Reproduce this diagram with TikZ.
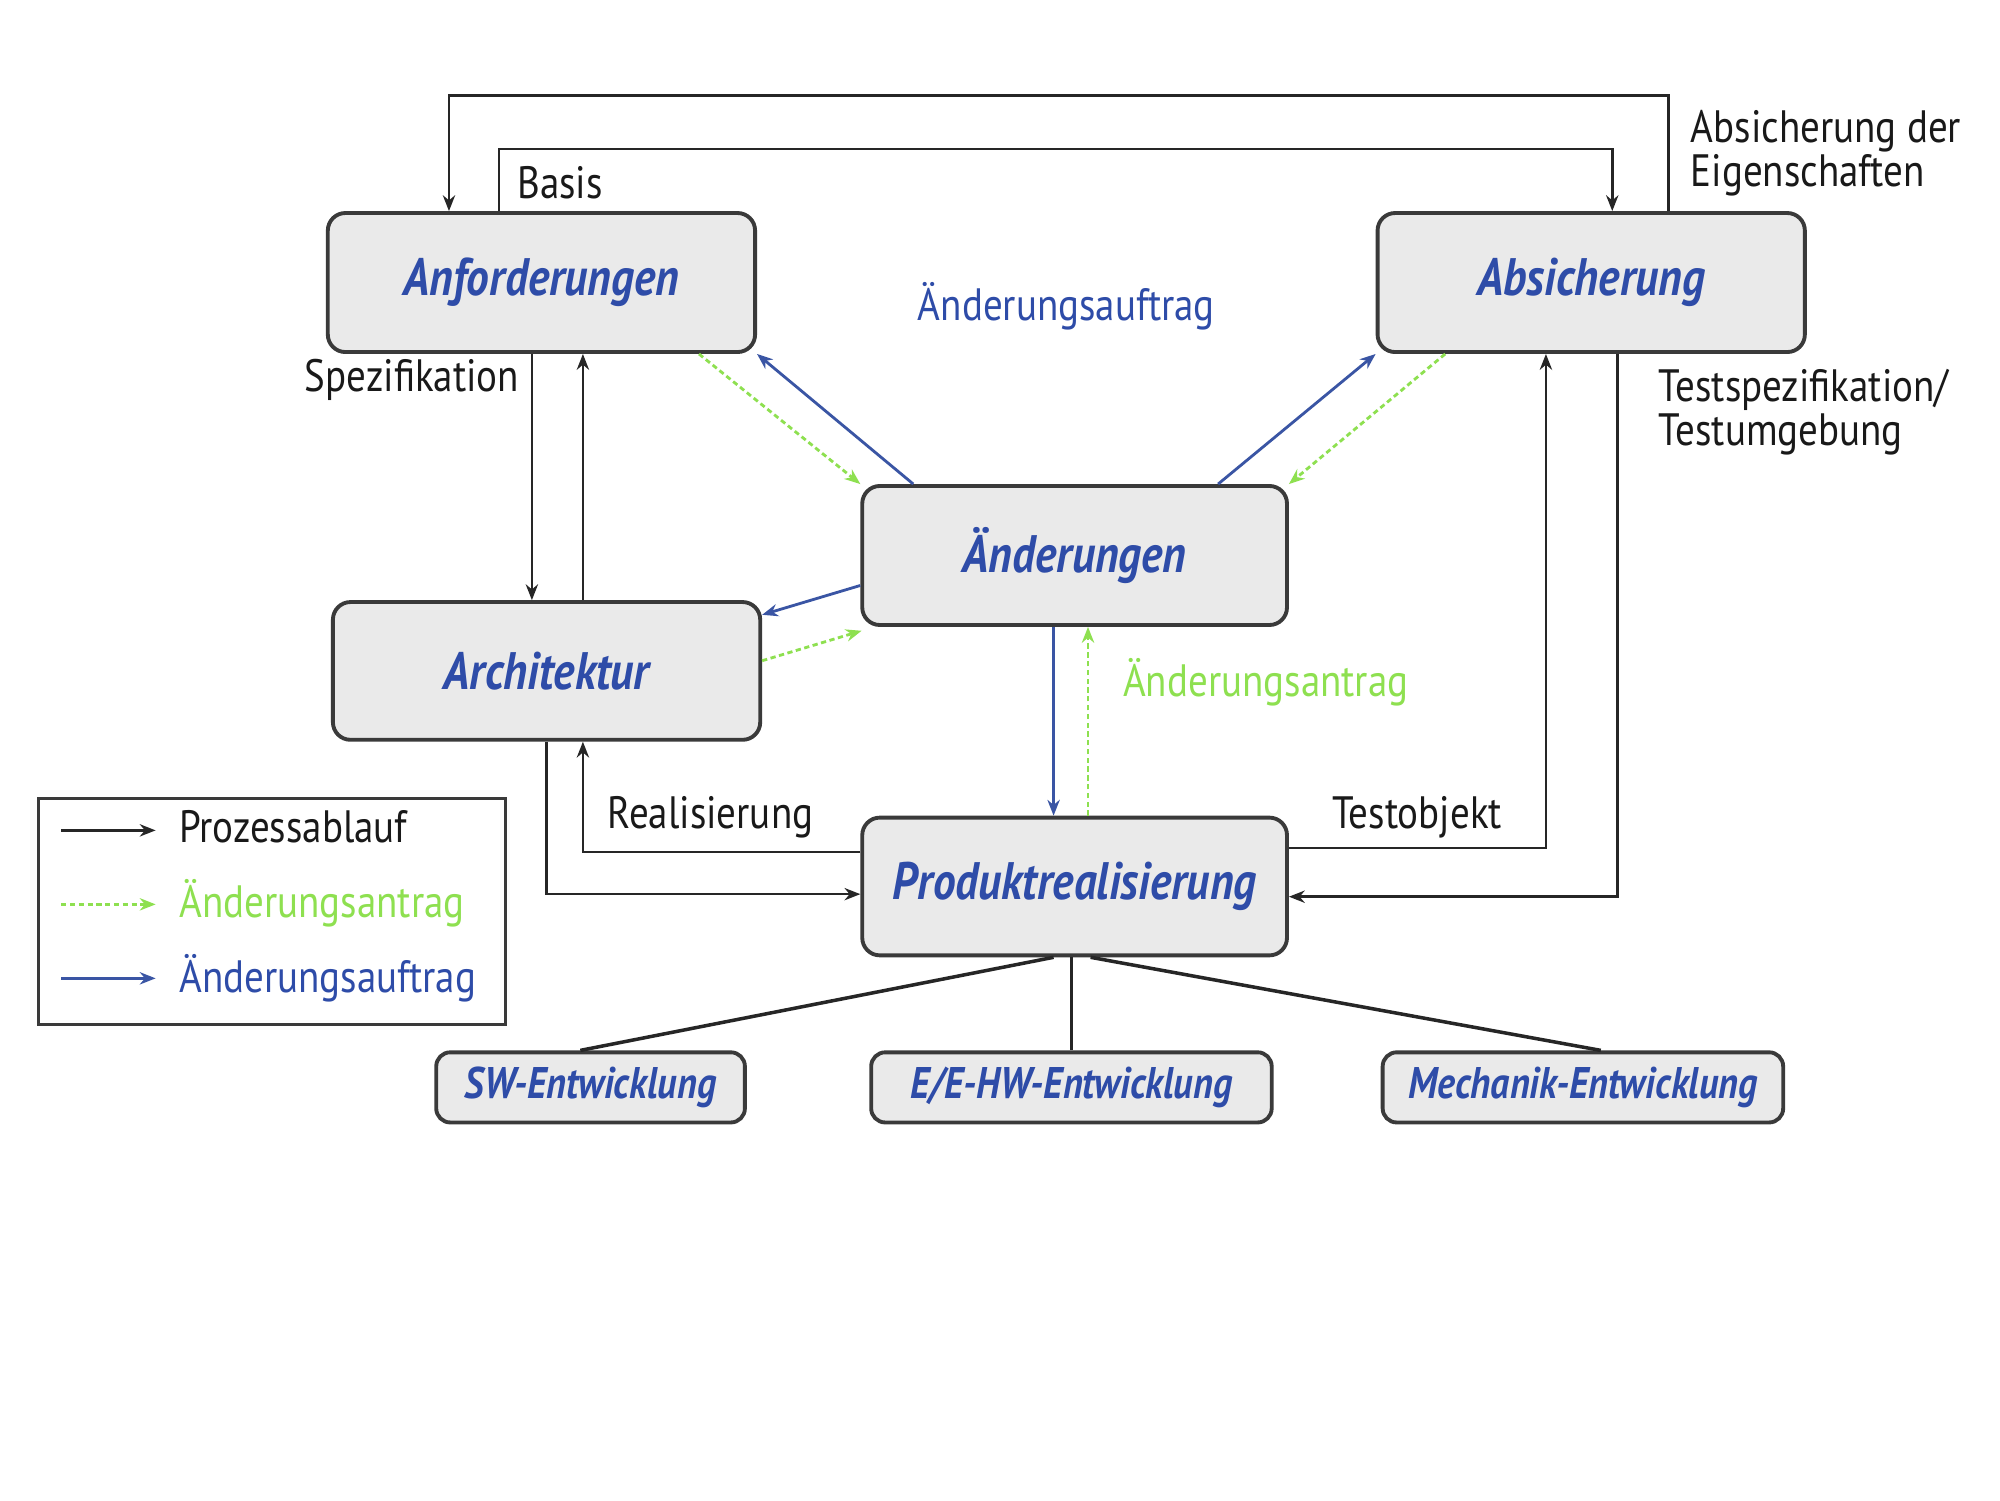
\documentclass[tikz,border=0pt]{standalone}
\usepackage{fontspec}
\setmainfont{PT Sans}[FakeStretch=0.86]
\usetikzlibrary{arrows.meta,calc}
\definecolor{boxblue}{HTML}{2E4CA8}
\definecolor{arrblue}{HTML}{3A55A4}
\definecolor{lgreen}{HTML}{8EE050}
\definecolor{boxfill}{HTML}{EAEAEA}
\definecolor{boxdraw}{HTML}{3A3A3A}
\def\U{0.012755cm}
\tikzset{
  box/.style={draw=boxdraw, line width=1.1pt, fill=boxfill, rounded corners=5pt,
    font=\fontsize{15}{17}\selectfont\bfseries\itshape, text=boxblue, inner sep=0pt},
  bigbox/.style={box, minimum width={335*\U}, minimum height={109*\U}},
  smallbox/.style={box, minimum width={314*\U}, minimum height={55*\U},
    font=\fontsize{12.6}{14}\selectfont\bfseries\itshape, rounded corners=4pt},
  proc/.style={draw=black!85, line width=0.7pt, -{Stealth[length=4.5pt,width=3.5pt]}},
  plain/.style={draw=black!85, line width=0.7pt},
  auf/.style={draw=arrblue, line width=0.8pt, -{Stealth[length=4.5pt,width=3.5pt]}},
  ant/.style={draw=lgreen, line width=0.8pt, dash pattern=on 1.5pt off 1pt, -{Stealth[length=4.5pt,width=3.5pt]}},
  lbl/.style={font=\fontsize{12.9}{12.6}\selectfont, text=black!90, inner sep=0pt},
}
\begin{document}
\begin{tikzpicture}[x=0.012755cm, y=-0.012755cm]
\useasboundingbox[fill=white] (0,0) rectangle (1568,1176);

% main boxes
\node[bigbox] (anf) at (424.5,221.5) {Anforderungen};
\node[bigbox] (abs) at (1247.5,221.5) {Absicherung};
\node[bigbox, minimum width={333*\U}] (aen) at (842.5,435.5) {Änderungen};
\node[bigbox, minimum height={108*\U}] (arch) at (428.5,526) {Architektur};
\node[bigbox, minimum width={333*\U}, minimum height={108*\U}] (prod) at (842.5,695) {Produktrealisierung};
\node[smallbox, minimum width={242*\U}] (sw) at (463,852.5) {SW-Entwicklung};
\node[smallbox] (ee) at (840,852.5) {E/E-HW-Entwicklung};
\node[smallbox] (mech) at (1241,852.5) {Mechanik-Entwicklung};

% helper coordinates for the top loops
\coordinate (ytop) at (0,75);
\coordinate (yin) at (0,117);
\coordinate (xrl) at (457,0);
\coordinate (xsp) at (417,0);

% outer loop: Absicherung der Eigenschaften
\coordinate (o1) at ([xshift={60.5*\U}]abs.north);
\coordinate (o2) at ([xshift={-72.5*\U}]anf.north);
\draw[proc] (o1) -- (o1 |- ytop) -- (o2 |- ytop) -- (o2);
% inner loop: Basis
\coordinate (i1) at ([xshift={-33.5*\U}]anf.north);
\coordinate (i2) at ([xshift={16.5*\U}]abs.north);
\draw[proc] (i1) -- (i1 |- yin) -- (i2 |- yin) -- (i2);

% Spezifikation down / up
\draw[proc] (anf.south -| xsp) -- (arch.north -| xsp);
\draw[proc] (arch.north -| xrl) -- (anf.south -| xrl);

% Architektur -> Produktrealisierung
\draw[proc] (arch.south) |- ([yshift={-6*\U}]prod.west);
% Realisierung back up
\draw[proc] ([yshift={27*\U}]prod.west) -| (arch.south -| xrl);
% Testobjekt
\draw[proc] ([yshift={30*\U}]prod.east) -| ([xshift={-35.5*\U}]abs.south);
% Testspezifikation
\draw[proc] ([xshift={20.5*\U}]abs.south) |- ([yshift={-8*\U}]prod.east);

% Änderungsauftrag (blue) and Änderungsantrag (green)
\draw[auf] ([xshift={-126.5*\U}]aen.north) -- (anf.south east);
\draw[ant] ([xshift={123.5*\U}]anf.south) -- (aen.north west);
\draw[auf] ([xshift={112.5*\U}]aen.north) -- (abs.south west);
\draw[ant] ([xshift={-114.5*\U}]abs.south) -- (aen.north east);
\draw[auf] ([yshift={-23.5*\U}]aen.west) -- ([yshift={44*\U}]arch.east);
\draw[ant] ([yshift={8*\U}]arch.east) -- ([xshift={1*\U},yshift={-3*\U}]aen.south west);
\draw[auf] ([xshift={-16.5*\U}]aen.south) -- ([xshift={-16.5*\U}]prod.north);
\draw[ant] ([xshift={10.5*\U}]prod.north) -- ([xshift={10.5*\U}]aen.south);

% branches to development boxes
\draw[plain, line width=1pt] ([xshift={-16.5*\U}]prod.south) -- ([xshift={-8*\U}]sw.north);
\draw[plain] ([xshift={-2.5*\U}]prod.south) -- (ee.north);
\draw[plain, line width=1pt] ([xshift={12.5*\U}]prod.south) -- ([xshift={14*\U}]mech.north);

% labels
\node[lbl, anchor=west] (lbasis) at (405,143) {Basis};
\node[lbl, anchor=west, align=left] (leig) at (1325,120) {Absicherung der\\Eigenschaften};
\node[lbl] (lspez) at (323,298) {Spezifikation};
\node[lbl, text=boxblue] (lauf) at (836,240) {Änderungsauftrag};
\node[lbl, anchor=west, align=left] (ltest) at (1300,323) {Testspezifikation/\\Testumgebung};
\node[lbl, anchor=west, text=lgreen] (lant) at (880,535) {Änderungsantrag};
\node[lbl] (lreal) at (557,641) {Realisierung};
\node[lbl] (ltobj) at (1111,641) {Testobjekt};

% legend
\node[draw=boxdraw, line width=0.9pt, minimum width={366*\U}, minimum height={177*\U}, inner sep=0pt] (leg) at (213,714.5) {};
\coordinate (l1a) at (48,651); \coordinate (l1b) at (122,651);
\coordinate (l2a) at (48,709); \coordinate (l2b) at (122,709);
\coordinate (l3a) at (48,767); \coordinate (l3b) at (122,767);
\draw[proc] (l1a) -- (l1b);
\draw[ant] (l2a) -- (l2b);
\draw[auf] (l3a) -- (l3b);
\node[lbl, anchor=west] (t1) at (140,648) {Prozessablauf};
\node[lbl, anchor=west, text=lgreen] (t2) at (140,708) {Änderungsantrag};
\node[lbl, anchor=west, text=boxblue] (t3) at (140,767) {Änderungsauftrag};
\end{tikzpicture}
\end{document}
